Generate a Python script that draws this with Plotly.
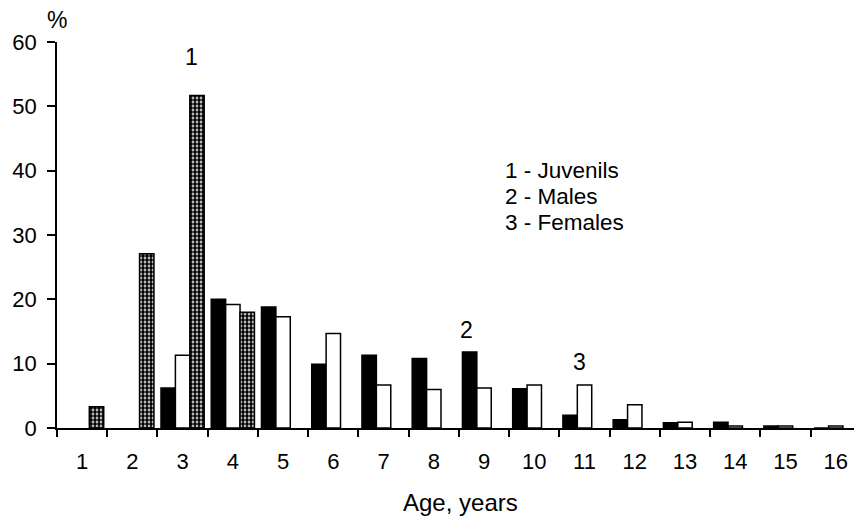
import plotly.graph_objects as go

ages = list(range(1, 17))
age_labels = [str(a) for a in ages]
males = [None, None, 6.2, 20.0, 18.8, 9.9, 11.3, 10.8, 11.8, 6.1, 2.0, 1.3, 0.8, 0.9, 0.3, 0.0]
females = [None, None, 11.3, 19.2, 17.3, 14.7, 6.7, 6.0, 6.2, 6.7, 6.7, 3.6, 0.9, 0.3, 0.3, 0.3]
juvenils = [3.3, 27.1, 51.7, 18.0, None, None, None, None, None, None, None, None, None, None, None, None]
y_ticks = [0, 10, 20, 30, 40, 50, 60]
legend_lines = ["1 - Juvenils", "2 - Males", "3 - Females"]

FONT = "Liberation Sans, Arial, sans-serif"
W, H = 854, 523
L, R, T, B = 57, 0, 42, 95

fig = go.Figure()
fig.add_trace(go.Bar(x=ages, y=males, name="Males",
                     marker=dict(color="black", line=dict(color="black", width=1.5))))
fig.add_trace(go.Bar(x=ages, y=females, name="Females",
                     marker=dict(color="white", line=dict(color="black", width=1.5))))
fig.add_trace(go.Bar(x=ages, y=juvenils, name="Juvenils",
                     marker=dict(color="white", line=dict(color="black", width=1.5),
                                 pattern=dict(shape=".", size=4, solidity=0.7, fgopacity=1,
                                              fgcolor="black", bgcolor="white"))))

annotations = []
# category labels above bars
for txt, xv, yv in [("1", 3.18, 57.7), ("2", 8.66, 15.3), ("3", 10.90, 10.2)]:
    annotations.append(dict(x=xv, y=yv, xref="x", yref="y", text=txt, showarrow=False,
                            font=dict(family=FONT, size=23, color="black"),
                            xanchor="center", yanchor="middle"))

pw = W - L - R
ph = H - T - B
for txt, py in zip(legend_lines, [170, 196, 222]):
    annotations.append(dict(x=(503 - L) / pw, y=(H - B - py) / ph, xref="paper", yref="paper",
                            text=txt, showarrow=False, xanchor="left", yanchor="middle",
                            font=dict(family=FONT, size=22.5, color="black")))

annotations.append(dict(x=0, y=(H - B - 20) / ph, xref="paper", yref="paper", text="%",
                        showarrow=False, xanchor="center", yanchor="middle",
                        font=dict(family=FONT, size=23, color="black")))
annotations.append(dict(x=(460 - L) / pw, y=(H - B - 502) / ph, xref="paper", yref="paper",
                        text="Age, years", showarrow=False, xanchor="center", yanchor="middle",
                        font=dict(family=FONT, size=24, color="black")))

fig.update_layout(
    width=W, height=H,
    margin=dict(l=L, r=R, t=T, b=B, pad=0),
    plot_bgcolor="white", paper_bgcolor="white",
    barmode="group", bargap=0.14, bargroupgap=0,
    showlegend=False,
    annotations=annotations,
    font=dict(family=FONT, size=22, color="black"),
)
fig.update_xaxes(
    range=[0.5, 0.5 + (W - L) / 50.24],
    tickmode="array", tickvals=ages, ticktext=age_labels,
    ticks="", showgrid=False, zeroline=False,
    showline=True, linecolor="black", linewidth=1.5,
    ticklabelstandoff=13,
    tickfont=dict(family=FONT, size=22, color="black"),
    minor=dict(tick0=0.5, dtick=1, ticks="outside", ticklen=7, tickwidth=1.5,
               tickcolor="black", showgrid=False),
)
fig.update_yaxes(
    range=[0, 60], tickmode="array", tickvals=y_ticks,
    ticks="outside", ticklen=8, tickwidth=1.5, tickcolor="black",
    showgrid=False, zeroline=False,
    showline=True, linecolor="black", linewidth=1.5,
    ticklabelstandoff=6,
    tickfont=dict(family=FONT, size=22, color="black"),
)

fig.write_html("out.html")
